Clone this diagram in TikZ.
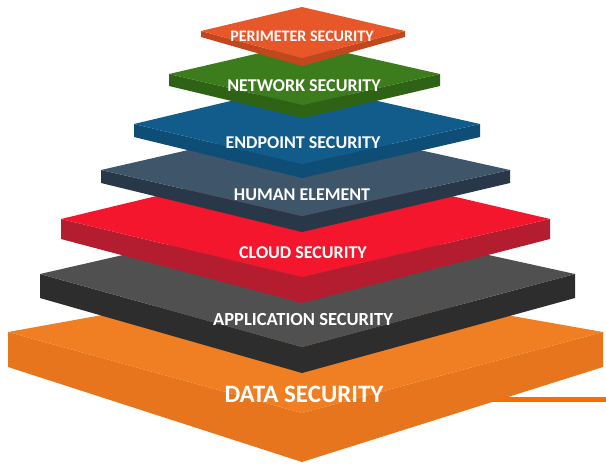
\documentclass[tikz,border=0pt]{standalone}
\usepackage{fontspec}
\setmainfont{Carlito}

% tier colours: top face / side faces
\definecolor{perTop}{HTML}{E8572A}  \definecolor{perSide}{HTML}{C2471F}
\definecolor{netTop}{HTML}{3D7C1C}  \definecolor{netSide}{HTML}{2E6214}
\definecolor{endTop}{HTML}{125C8C}  \definecolor{endSide}{HTML}{0E4D75}
\definecolor{humTop}{HTML}{3F5569}  \definecolor{humSide}{HTML}{283848}
\definecolor{cldTop}{HTML}{F3162C}  \definecolor{cldSide}{HTML}{B31D2F}
\definecolor{appTop}{HTML}{505050}  \definecolor{appSide}{HTML}{2D2D2D}
\definecolor{datTop}{HTML}{F07F23}  \definecolor{datSide}{HTML}{E6751D}
\definecolor{leader}{HTML}{FF6A00}

\tikzset{
  tiertext/.style={text=white, inner sep=0pt,
    font=\bfseries\fontsize{#1}{#1}\selectfont},
}

% corner points of one slab:
% name, x left, x apex, x right, y back apex, y corner, y corner bottom, y front apex, y front bottom
\newcommand\slabpts[9]{%
  \coordinate (#1L)  at (#2,#6); \coordinate (#1Lb) at (#2,#7);
  \coordinate (#1R)  at (#4,#6); \coordinate (#1Rb) at (#4,#7);
  \coordinate (#1B)  at (#3,#5);
  \coordinate (#1F)  at (#3,#8); \coordinate (#1Fb) at (#3,#9);}

% a slab: two side faces and the diamond top face
\newcommand\slab[3]{%
  \fill[#3] (#1L) -- (#1F) -- (#1Fb) -- (#1Lb) -- cycle;
  \fill[#3] (#1R) -- (#1F) -- (#1Fb) -- (#1Rb) -- cycle;
  \fill[#2] (#1L) -- (#1B) -- (#1R) -- (#1F) -- cycle;}

\begin{document}
\begin{tikzpicture}[x=1pt,y=-1pt]
\useasboundingbox (0,0) rectangle (606,469);

% leader line behind the base slab
\coordinate (leadA) at (480,399);
\coordinate (leadB) at (606,399);
\draw[leader, line width=5pt] (leadA) -- (leadB);

\slabpts{dat}{8}{302}{603}{279}{332}{367}{413}{462}
\slabpts{app}{40}{302}{575}{214}{274}{298}{347}{373}
\slabpts{cld}{61}{302}{550}{161}{219}{239}{277}{303}
\slabpts{hum}{101}{302}{510}{124}{170}{183}{216}{232}
\slabpts{end}{134}{302}{480}{84}{124}{137}{164}{178}
\slabpts{net}{169}{303}{440}{43}{74}{86}{105}{118}
\slabpts{per}{201}{302}{405}{7}{31}{37}{58}{66}

\slab{dat}{datTop}{datSide}
\slab{app}{appTop}{appSide}
\slab{cld}{cldTop}{cldSide}
\slab{hum}{humTop}{humSide}
\slab{end}{endTop}{endSide}
\slab{net}{netTop}{netSide}
\slab{per}{perTop}{perSide}

\node[tiertext=16]   (tPer) at (302,36)  {PERIMETER SECURITY};
\node[tiertext=18]   (tNet) at (304,86)  {NETWORK SECURITY};
\node[tiertext=18]   (tEnd) at (303,143) {ENDPOINT SECURITY};
\node[tiertext=18]   (tHum) at (302,195) {HUMAN ELEMENT};
\node[tiertext=18]   (tCld) at (303,253) {CLOUD SECURITY};
\node[tiertext=18.5] (tApp) at (303,319) {APPLICATION SECURITY};
\node[tiertext=25]   (tDat) at (304,394) {DATA SECURITY};
\end{tikzpicture}
\end{document}
